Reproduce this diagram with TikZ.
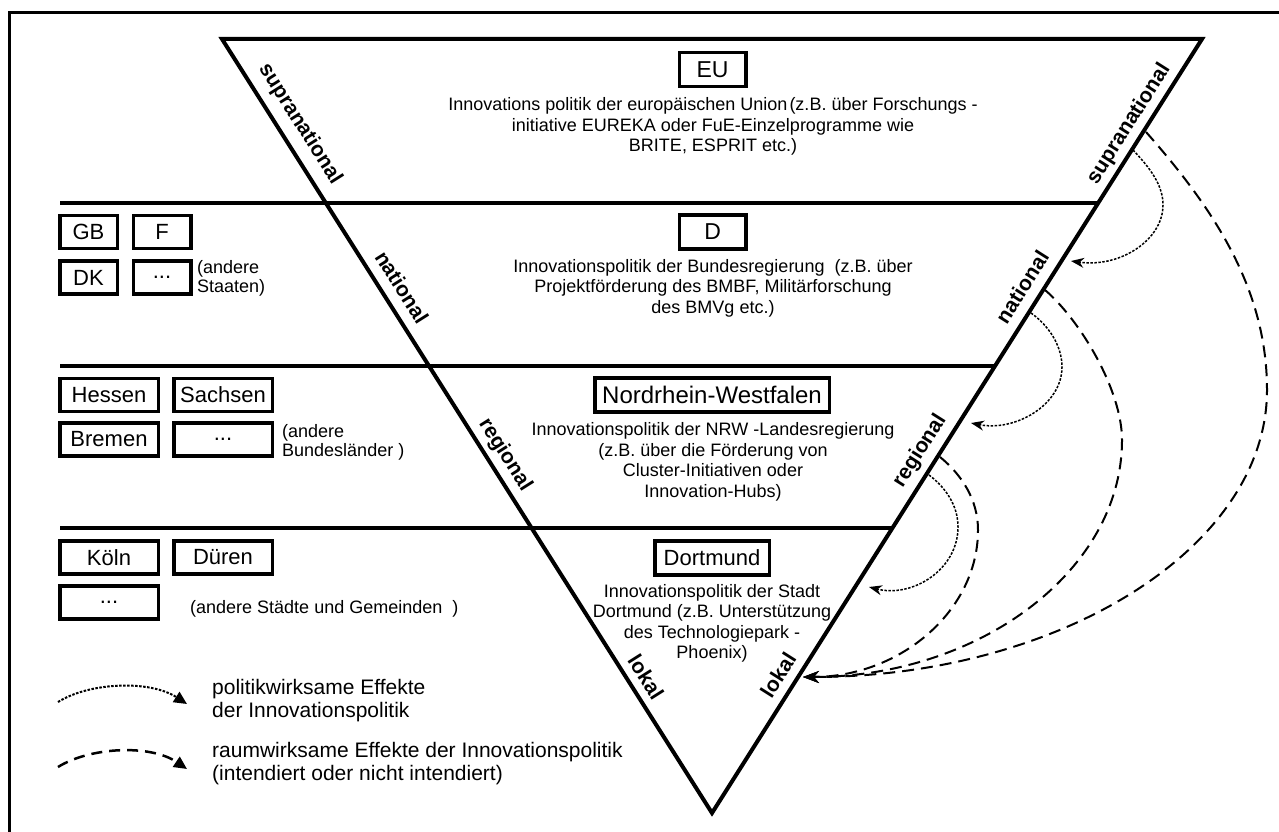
\documentclass[tikz,border=0pt]{standalone}
\usepackage{fontspec}
\setmainfont{Liberation Sans}
\usetikzlibrary{arrows.meta}
\begin{document}
\begin{tikzpicture}[x=1pt,y=-1pt,
  heavy/.style={line width=4pt},
  sbox/.style={draw, line width=3.5pt, inner sep=0pt, minimum width=57.5pt, minimum height=33pt, font=\fontsize{22}{24}\selectfont},
  wbox/.style={sbox, minimum width=98.5pt},
  cbox/.style={draw, line width=3.5pt, inner sep=0pt, minimum height=34pt, font=\fontsize{23}{24}\selectfont},
  desc/.style={align=center, inner sep=0pt, font=\fontsize{18}{20.5}\selectfont},
  note/.style={align=left, anchor=west, inner sep=0pt, font=\fontsize{18}{19}\selectfont},
  legtext/.style={align=left, anchor=west, inner sep=0pt, font=\fontsize{21}{23}\selectfont},
  levellabel/.style={font=\bfseries\fontsize{21}{22}\selectfont, inner sep=0pt},
  raum/.style={line width=2pt, dash pattern=on 12pt off 7pt, -{Stealth[length=16pt,width=12pt]}},
  politik/.style={line width=1.5pt, dash pattern=on 2.5pt off 1.5pt, -{Stealth[length=13pt,width=10pt]}},
  legtip/.style={-{Triangle[length=13pt,width=12pt]}}
]
\useasboundingbox (0,0) rectangle (1279,832);
\clip (0,0) rectangle (1279,832);
% outer frame (continues beyond the picture)
\draw[line width=3pt] (9,900) -- (9,13) -- (1400,13);

% triangle
\coordinate (tl) at (222,39);
\coordinate (tr) at (1202,39);
\coordinate (bot) at (712,813);
\draw[heavy, line join=miter] (tl) -- (tr) -- (bot) -- cycle;

% level lines
\coordinate (l1a) at (60,203);  \coordinate (l1b) at (1098,203);
\coordinate (l2a) at (60,366);  \coordinate (l2b) at (995,366);
\coordinate (l3a) at (60,528);  \coordinate (l3b) at (892,528);
\draw[heavy] (l1a) -- (l1b);
\draw[heavy] (l2a) -- (l2b);
\draw[heavy] (l3a) -- (l3b);

% centre boxes and texts
\node[cbox, minimum width=66.5pt] (eu) at (712.6,69.5) {EU};
\node[desc] (eutext) at (713,126.5) {Innovations politik der europäischen Union\kern2pt(z.B. über Forschungs -\\initiative EUREKA oder FuE-Einzelprogramme wie\\BRITE, ESPRIT etc.)};
\node[cbox, minimum width=66.5pt] (d) at (712.6,232) {D};
\node[desc] (dtext) at (713,288) {Innovationspolitik der Bundesregierung\ \ (z.B. über\\Projektförderung des BMBF, Militärforschung\\des BMVg etc.)};
\node[cbox, minimum width=234.5pt, font=\fontsize{24}{25}\selectfont] (nrw) at (712,395) {Nordrhein-Westfalen};
\node[desc] (nrwtext) at (713,462) {Innovationspolitik der NRW -Landesregierung\\(z.B. über die Förderung von\\Cluster-Initiativen oder\\Innovation-Hubs)};
\node[cbox, minimum width=114.5pt, font=\fontsize{22}{24}\selectfont] (do) at (712,558) {Dortmund};
\node[desc] (dotext) at (712,623.5) {Innovationspolitik der Stadt\\Dortmund (z.B. Unterstützung\\des Technologiepark -\\Phoenix)};

% left boxes
\node[sbox] (gb) at (88.5,232) {GB};
\node[sbox] (f) at (162,232) {F};
\node[sbox] (dk) at (88.5,277.5) {DK};
\node[sbox] (s1) at (162,277.5) {...};
\node[note] (staaten) at (197,278) {(andere\\Staaten)};
\node[wbox] (hessen) at (109,395) {Hessen};
\node[wbox] (sachsen) at (223,395) {Sachsen};
\node[wbox] (bremen) at (109,439.5) {Bremen};
\node[wbox] (s2) at (223,439.5) {...};
\node[note] (laender) at (282,442) {(andere\\Bundesländer )};
\node[wbox] (koeln) at (109,557.5) {Köln};
\node[wbox] (dueren) at (223,557.5) {Düren};
\node[wbox] (s3) at (109,602.5) {...};
\node[note] (staedte) at (190,609) {(andere Städte und Gemeinden\ \ )};

% level labels
\node[levellabel, rotate=-57.66] (lsup) at (300,124) {supranational};
\node[levellabel, rotate=-57.66] (lnat) at (402,287) {national};
\node[levellabel, rotate=-57.66] (lreg) at (505,455) {regional};
\node[levellabel, rotate=-57.66] (llok) at (646,677) {lokal};
\node[levellabel, rotate=57.66] (rsup) at (1129,124) {supranational};
\node[levellabel, rotate=57.66] (rnat) at (1022,287) {national};
\node[levellabel, rotate=57.66] (rreg) at (920,451) {regional};
\node[levellabel, rotate=57.66] (rlok) at (778,675) {lokal};

% effect arrows
\coordinate (lokaltip) at (803,677);
\coordinate (rsupA) at (1146,132);
\coordinate (rnatA) at (1045,290);
\coordinate (rregA) at (940,457);
\draw[raum] (rsupA) .. controls (1215,210) and (1267,290) .. (1267,390)
  .. controls (1267,548) and (1059,677) .. (lokaltip);
\draw[raum] (rnatA) .. controls (1080,320) and (1122,390) .. (1122,440)
  .. controls (1122,571) and (979,677) .. (lokaltip);
\draw[raum] (rregA) .. controls (962,475) and (978,500) .. (978,530)
  .. controls (978,611) and (900,677) .. (lokaltip);

\coordinate (p1s) at (1133,150); \coordinate (p1e) at (1071,261);
\coordinate (p2s) at (1031,313); \coordinate (p2e) at (971,423);
\coordinate (p3s) at (929,475);  \coordinate (p3e) at (869,587);
\draw[politik] (p1s) .. controls (1150,168) and (1163,185) .. (1163,205)
  .. controls (1163,240) and (1120,268) .. (p1e);
\draw[politik] (p2s) .. controls (1048,325) and (1062,345) .. (1062,367)
  .. controls (1062,405) and (1015,432) .. (p2e);
\draw[politik] (p3s) .. controls (945,487) and (958,505) .. (958,527)
  .. controls (958,570) and (912,598) .. (p3e);

% legend
\coordinate (lg1s) at (58,702); \coordinate (lg1e) at (187,704);
\coordinate (lg2s) at (58,767); \coordinate (lg2e) at (187,769);
\draw[legtip, line width=2pt, dash pattern=on 2.5pt off 1.5pt]
  (lg1s) .. controls (90,682) and (150,680) .. (lg1e);
\draw[legtip, line width=2.5pt, dash pattern=on 11pt off 7pt]
  (lg2s) .. controls (90,747) and (150,744) .. (lg2e);
\node[legtext] (leg1) at (212,700.5) {politikwirksame Effekte\\der Innovationspolitik};
\node[legtext] (leg2) at (212,764) {raumwirksame Effekte der\ Innovationspolitik\\(intendiert oder nicht intendiert)};
\end{tikzpicture}
\end{document}
